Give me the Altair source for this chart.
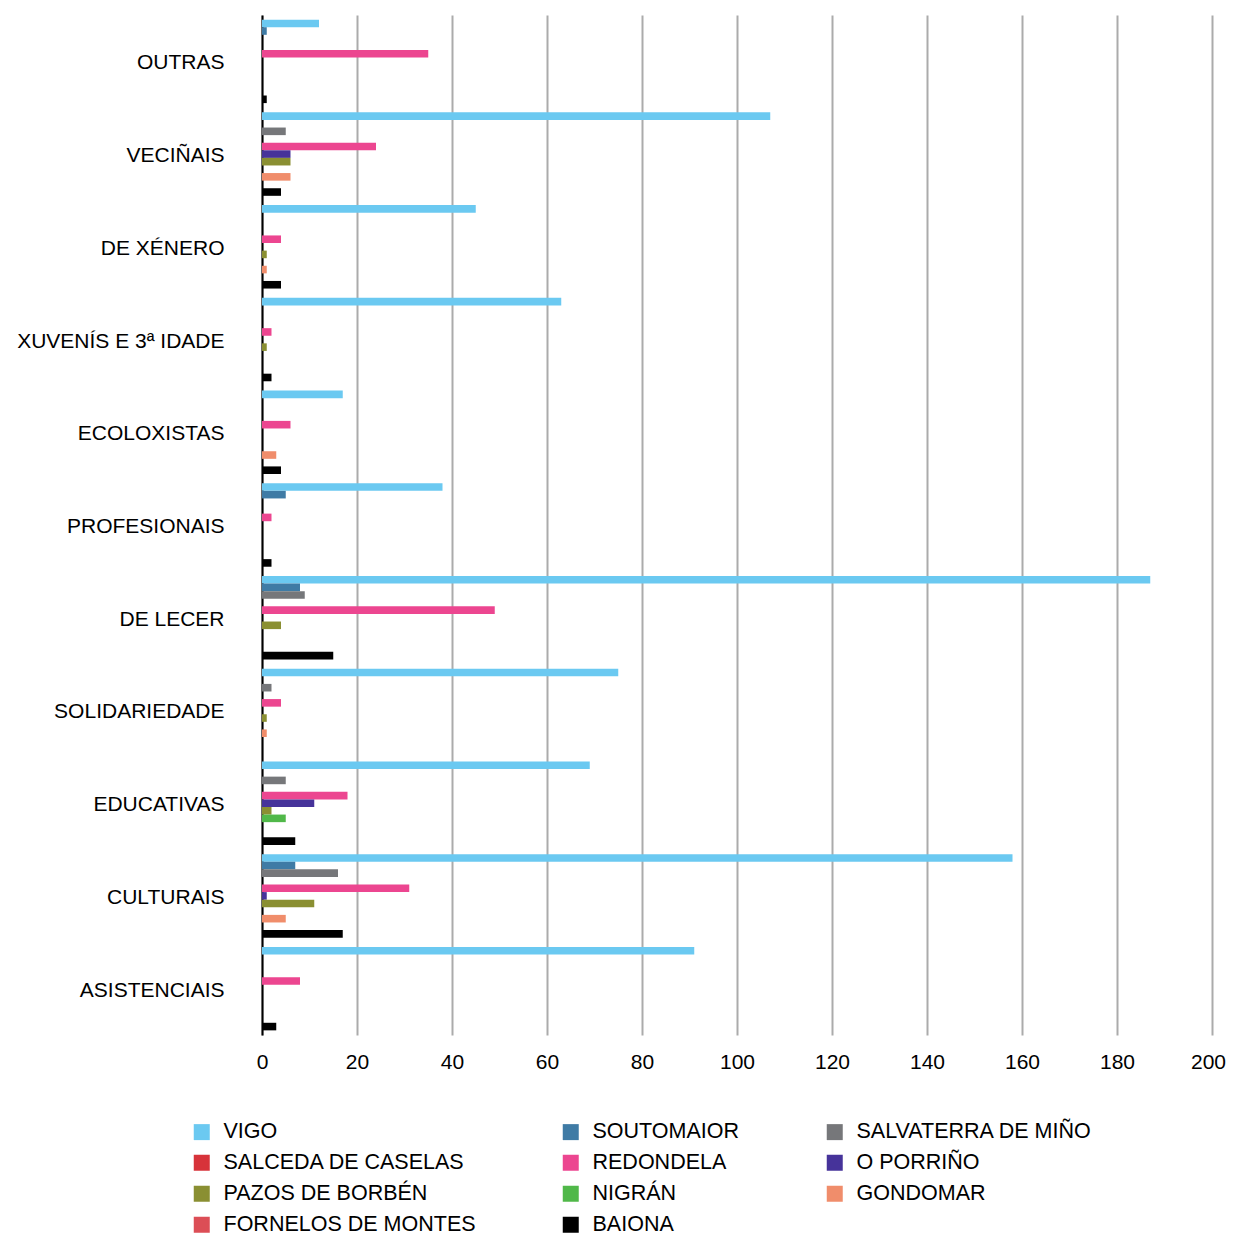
import altair as alt
import pandas as pd

categories = ["OUTRAS", "VECIÑAIS", "DE XÉNERO", "XUVENÍS E 3ª IDADE", "ECOLOXISTAS",
              "PROFESIONAIS", "DE LECER", "SOLIDARIEDADE", "EDUCATIVAS", "CULTURAIS",
              "ASISTENCIAIS"]

series_names = ["VIGO", "SOUTOMAIOR", "SALVATERRA DE MIÑO", "SALCEDA DE CASELAS",
                "REDONDELA", "O PORRIÑO", "PAZOS DE BORBÉN", "NIGRÁN", "GONDOMAR",
                "FORNELOS DE MONTES", "BAIONA"]

vigo = [12, 107, 45, 63, 17, 38, 187, 75, 69, 158, 91]
soutomaior = [1, 0, 0, 0, 0, 5, 8, 0, 0, 7, 0]
salvaterra = [0, 5, 0, 0, 0, 0, 9, 2, 5, 16, 0]
salceda = [0, 0, 0, 0, 0, 0, 0, 0, 0, 0, 0]
redondela = [35, 24, 4, 2, 6, 2, 49, 4, 18, 31, 8]
porrino = [0, 6, 0, 0, 0, 0, 0, 0, 11, 1, 0]
pazos = [0, 6, 1, 1, 0, 0, 4, 1, 2, 11, 0]
nigran = [0, 0, 0, 0, 0, 0, 0, 0, 5, 0, 0]
gondomar = [0, 6, 1, 0, 3, 0, 0, 1, 0, 5, 0]
fornelos = [0, 0, 0, 0, 0, 0, 0, 0, 0, 0, 0]
baiona = [1, 4, 4, 2, 4, 2, 15, 0, 7, 17, 3]

x_ticks = [0, 20, 40, 60, 80, 100, 120, 140, 160, 180, 200]

colors = ["#6BC9F1", "#3F7BA5", "#76777A", "#D7333A", "#EC4690", "#46339A",
          "#8A8F32", "#50B849", "#F08D6B", "#DC4E56", "#000000"]

all_series = [vigo, soutomaior, salvaterra, salceda, redondela, porrino,
              pazos, nigran, gondomar, fornelos, baiona]

rows = []
for name, vals in zip(series_names, all_series):
    for cat, v in zip(categories, vals):
        rows.append({"categoria": cat, "concello": name, "valor": v})
df = pd.DataFrame(rows)

FONT = "Liberation Sans"

chart = alt.Chart(df).mark_bar().encode(
    y=alt.Y("categoria:N", sort=categories, title=None,
            scale=alt.Scale(paddingInner=0.1, paddingOuter=0.05),
            axis=alt.Axis(labelFontSize=21, labelFont=FONT, labelColor="#000000",
                          labelPadding=38, labelLimit=0, labelOffset=2,
                          ticks=False, domain=True,
                          domainColor="#000000", domainWidth=2, grid=False)),
    yOffset=alt.YOffset("concello:N", sort=series_names,
                        scale=alt.Scale(domain=series_names)),
    x=alt.X("valor:Q", title=None,
            scale=alt.Scale(domain=[0, 200], nice=False),
            axis=alt.Axis(values=x_ticks, labelFontSize=21,
                          labelFont=FONT, labelColor="#000000", labelPadding=16,
                          labelFlush=False,
                          labelOffset={"condition": {"test": "datum.value == 200", "value": -4},
                                       "value": 0},
                          domain=False, ticks=False, grid=True,
                          gridColor="#ABABAB", gridWidth=2)),
    color=alt.Color("concello:N", sort=series_names,
                    scale=alt.Scale(domain=series_names, range=colors),
                    legend=alt.Legend(orient="none", legendX=-71, legendY=1106,
                                      direction="horizontal",
                                      columns=3, title=None, symbolType="square",
                                      symbolSize=256, symbolStrokeWidth=0,
                                      labelFontSize=21.5, labelFont=FONT,
                                      labelColor="#000000", labelOffset=11,
                                      labelLimit=0,
                                      columnPadding=84, rowPadding=8)),
).properties(
    width=950,
    height=1020,
    autosize=alt.AutoSizeParams(type="none"),
    padding={"left": 254, "top": 7, "right": 14, "bottom": 215},
).configure_view(stroke=None)

chart.save("out.html", embed_options={"renderer": "svg", "actions": False})
